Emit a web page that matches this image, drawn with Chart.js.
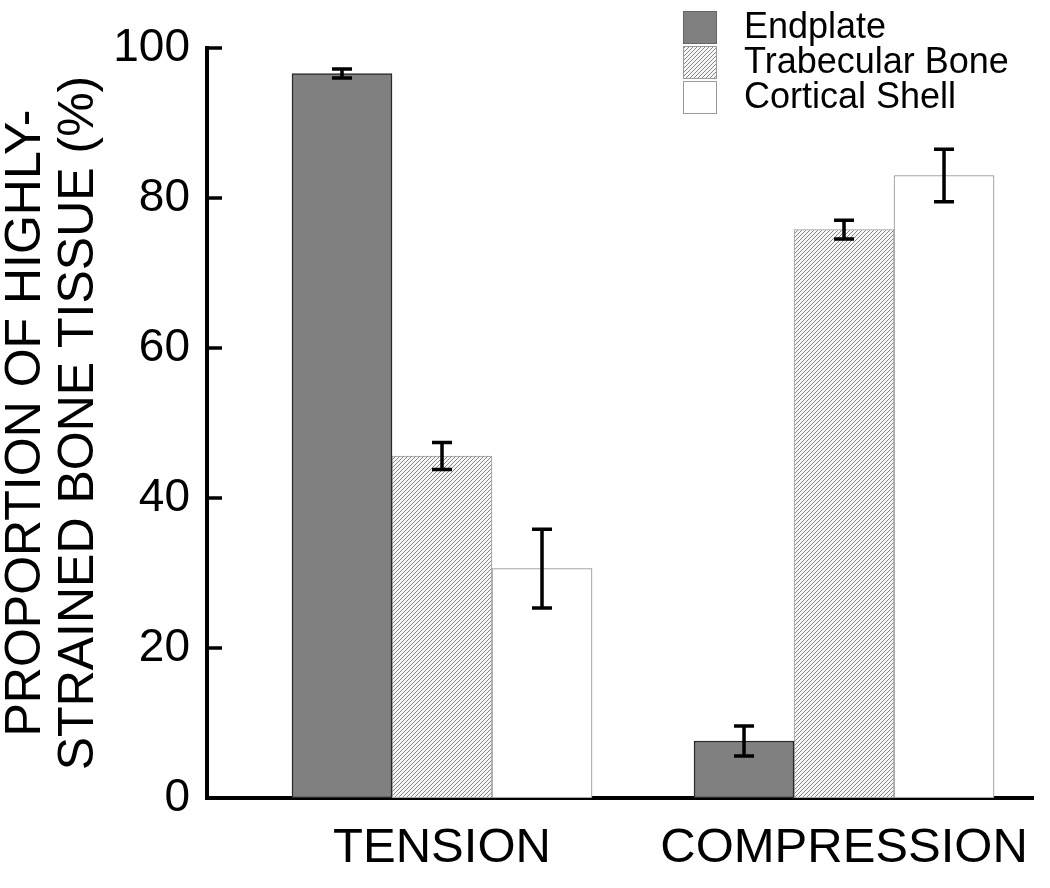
<!DOCTYPE html>
<html>
<head>
<meta charset="utf-8">
<script src="https://cdn.jsdelivr.net/npm/chart.js@4.4.1/dist/chart.umd.min.js"></script>
<style>
html,body{margin:0;padding:0;background:#fff;}
#wrap{width:1050px;height:888px;}
</style>
</head>
<body>
<div id="wrap"><canvas id="c" width="1050" height="888"></canvas></div>
<script>
const categories = ['TENSION', 'COMPRESSION'];
const seriesNames = ['Endplate', 'Trabecular Bone', 'Cortical Shell'];
const endplate = [96.6, 7.6];
const endplateErr = [0.6, 2.0];
const trabecular = [45.6, 75.8];
const trabecularErr = [1.8, 1.25];
const cortical = [30.6, 83.0];
const corticalErr = [5.25, 3.5];
const yTicks = [0, 20, 40, 60, 80, 100];
const yTitle = ['PROPORTION OF HIGHLY-', 'STRAINED BONE TISSUE (%)'];

const FONT = '"Liberation Sans", Arial, Helvetica, sans-serif';

function hatchPattern() {
  const p = document.createElement('canvas');
  p.width = 4; p.height = 4;
  const g = p.getContext('2d');
  g.fillStyle = '#f6f6f6';
  g.fillRect(0, 0, 4, 4);
  g.strokeStyle = '#7c7c7c';
  g.lineWidth = 0.9;
  g.beginPath();
  g.moveTo(-1, 5); g.lineTo(5, -1);
  g.moveTo(-1, 1); g.lineTo(1, -1);
  g.moveTo(3, 5); g.lineTo(5, 3);
  g.stroke();
  return document.getElementById('c').getContext('2d').createPattern(p, 'repeat');
}
const hatch = hatchPattern();

const styles = [
  {bg: '#808080', border: '#2a2a2a', bw: 1.5},
  {bg: hatch, border: '#9a9a9a', bw: 1},
  {bg: '#ffffff', border: '#8a8a8a', bw: 1}
];
const values = [endplate, trabecular, cortical];
const errors = [endplateErr, trabecularErr, corticalErr];

const datasets = values.map((vals, d) => ({
  label: seriesNames[d],
  data: vals.map((v, i) => ({x: i, y: v})),
  backgroundColor: styles[d].bg,
  borderColor: styles[d].border,
  borderWidth: styles[d].bw,
  borderSkipped: false,
  barThickness: 100
}));

const errorBarPlugin = {
  id: 'errorBars',
  afterDatasetsDraw(chart) {
    const ctx = chart.ctx;
    const ys = chart.scales.y;
    ctx.save();
    ctx.strokeStyle = '#000';
    ctx.lineWidth = 3.5;
    ctx.lineCap = 'butt';
    values.forEach((vals, d) => {
      const meta = chart.getDatasetMeta(d);
      vals.forEach((v, i) => {
        const bar = meta.data[i];
        const x = bar.x;
        const yt = ys.getPixelForValue(v + errors[d][i]);
        const yb = ys.getPixelForValue(v - errors[d][i]);
        ctx.beginPath();
        ctx.moveTo(x, yt); ctx.lineTo(x, yb);
        ctx.moveTo(x - 10, yt); ctx.lineTo(x + 10, yt);
        ctx.moveTo(x - 10, yb); ctx.lineTo(x + 10, yb);
        ctx.stroke();
      });
    });
    ctx.restore();
  }
};

const innerTicksPlugin = {
  id: 'innerTicks',
  afterDraw(chart) {
    const ctx = chart.ctx;
    const ys = chart.scales.y;
    const left = chart.chartArea.left;
    ctx.save();
    ctx.strokeStyle = '#000';
    ctx.lineWidth = 3.5;
    yTicks.forEach(t => {
      if (t === 0) return;
      const y = ys.getPixelForValue(t);
      ctx.beginPath();
      ctx.moveTo(left, y); ctx.lineTo(left + 15, y);
      ctx.stroke();
    });
    ctx.restore();
  }
};

const legendPlugin = {
  id: 'customLegend',
  afterDraw(chart) {
    const ctx = chart.ctx;
    ctx.save();
    const bx = 683, bw = 34, bh = 33, pitch = 35, top = 11;
    seriesNames.forEach((name, d) => {
      const y = top + d * pitch;
      ctx.fillStyle = styles[d].bg;
      ctx.fillRect(bx, y, bw, bh);
      ctx.strokeStyle = d === 0 ? '#666' : '#999';
      ctx.lineWidth = 1;
      ctx.strokeRect(bx + 0.5, y + 0.5, bw - 1, bh - 1);
      ctx.fillStyle = '#000';
      ctx.font = '36px ' + FONT;
      ctx.textBaseline = 'middle';
      ctx.textAlign = 'left';
      ctx.fillText(name, 744, y + bh / 2 + 1);
    });
    ctx.restore();
  }
};

const xMin = -0.5846, xMax = 1.4701;

new Chart(document.getElementById('c'), {
  type: 'bar',
  data: {datasets},
  plugins: [errorBarPlugin, innerTicksPlugin, legendPlugin],
  options: {
    responsive: false,
    animation: false,
    devicePixelRatio: 1,
    layout: {padding: {top: 48, right: 17, left: 0, bottom: 0}},
    plugins: {legend: {display: false}, tooltip: {enabled: false}},
    scales: {
      x: {
        type: 'linear',
        min: xMin, max: xMax,
        offset: false,
        grid: {display: false, drawTicks: false},
        border: {display: true, color: '#000', width: 4},
        afterBuildTicks: (scale) => { scale.ticks = categories.map((c, i) => ({value: i})); },
        afterFit: (scale) => { scale.height = 90; scale.paddingLeft = 0; scale.paddingRight = 0; },
        ticks: {
          autoSkip: false,
          maxRotation: 0,
          padding: 26,
          color: '#000',
          font: {family: FONT, size: 49, lineHeight: 1},
          callback: (v) => categories[Math.round(v)]
        }
      },
      y: {
        min: 0, max: 100,
        grid: {display: false, drawTicks: false},
        border: {display: true, color: '#000', width: 4},
        afterFit: (scale) => { scale.width = 207; },
        afterBuildTicks: (scale) => { scale.ticks = yTicks.map(v => ({value: v})); },
        ticks: {
          padding: 17,
          color: '#000',
          font: {family: FONT, size: 46, lineHeight: 1.2}
        },
        title: {
          display: true,
          text: yTitle,
          color: '#000',
          padding: {top: 0, bottom: 0},
          font: {family: FONT, size: 50, lineHeight: 1.06}
        }
      }
    }
  }
});
</script>
</body>
</html>
